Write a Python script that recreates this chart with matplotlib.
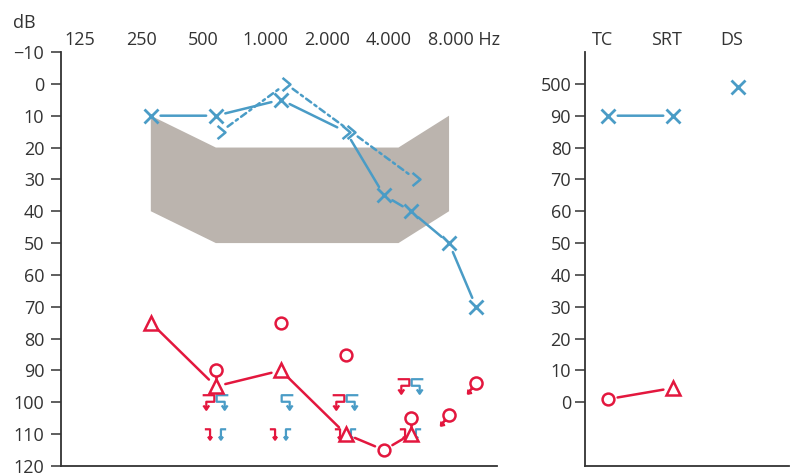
import matplotlib
matplotlib.use("Agg")
import matplotlib.pyplot as plt
import matplotlib.transforms as mtransforms
from matplotlib.path import Path

DPI = 100
BLUE = "#4a9cc6"
RED = "#e3173e"
GRAY = "#bbb4ae"
INK = "#333333"

plt.rcParams["font.family"] = ["Open Sans", "DejaVu Sans"]
plt.rcParams["font.size"] = 13
plt.rcParams["text.color"] = INK

# --- audiogram (left panel) ---
freq_ticks = [125, 250, 500, 1000, 2000, 4000, 8000]
freq_labels = ["125", "250", "500", "1.000", "2.000", "4.000", "8.000 Hz"]
db_ticks = list(range(-10, 121, 10))

area_freq = [250, 500, 3500, 6000, 6000, 3500, 500, 250]
area_db = [10, 20, 20, 10, 40, 50, 50, 40]

left_ac_freq = [250, 500, 1000, 2000, 3000, 4000, 6000, 8000]
left_ac_db = [10, 10, 5, 15, 35, 40, 50, 70]
left_ac_sym = ["x", "x", "x", ">", "x", "x", "x", "x"]

left_bc_freq = [500, 1000, 2000, 4000]
left_bc_db = [15, 0, 15, 30]

right_ac_freq = [250, 500, 1000, 2000, 3000, 4000]
right_ac_db = [75, 95, 90, 110, 115, 110]
right_ac_sym = ["^", "^", "^", "^", "o", "^"]

right_circle_freq = [1000, 2000]
right_circle_db = [75, 85]
right_stem_freq = [500, 4000]
right_stem_db = [90, 105]
right_nr_freq = [6000, 8000]
right_nr_db = [104, 94]

red_bc_freq = [500, 2000, 4000]
red_bc_db = [100, 100, 95]
blue_bc_freq = [500, 1000, 2000, 4000]
blue_bc_db = [100, 100, 100, 95]
red_low_freq = [500, 1000, 2000, 4000]
red_low_db = [110, 110, 110, 110]
blue_low_freq = [500, 1000, 2000, 4000]
blue_low_db = [110, 110, 110, 110]

# --- speech tests (right panel) ---
speech_cats = ["TC", "SRT", "DS"]
speech_ticks = list(range(0, 101, 10))
speech_labels = ["0", "10", "20", "30", "40", "50", "60", "70", "80", "90", "500"]
speech_blue_cats = ["TC", "SRT"]
speech_blue = [90, 90]
speech_ds_blue = 99
speech_red_cats = ["TC", "SRT"]
speech_red = [1, 4.5]
speech_red_sym = ["o", "^"]

M, L = Path.MOVETO, Path.LINETO
LW = 1.8


def chevron_path():
    return Path([(-0.3, 0.5), (0.3, 0.0), (-0.3, -0.5)], [M, L, L])


def bracket_path(mirror=False, small=False):
    if small:
        v = [(-0.35, 0.5), (0.15, 0.5), (0.15, -0.45),
             (-0.05, -0.2), (0.15, -0.5), (0.35, -0.2)]
        c = [M, L, L, M, L, L]
    else:
        v = [(-0.4, 0.5), (0.4, 0.5), (0.4, 0.05), (-0.15, 0.05), (-0.15, -0.45),
             (-0.35, -0.2), (-0.15, -0.5), (0.05, -0.2)]
        c = [M, L, L, L, L, M, L, L]
    if mirror:
        v = [(-x, y) for x, y in v]
    return Path(v, c)


def circle_tail_path(kind):
    circ = Path.circle((0, 0), 0.3)
    if kind == "stem":
        tail = Path([(0, -0.3), (0, -0.5)], [M, L])
    else:
        tail = Path([(-0.21, -0.21), (-0.42, -0.5), (-0.4, -0.3), (-0.42, -0.5), (-0.22, -0.46)],
                    [M, L, M, L, L])
    return Path.make_compound_path(circ, tail)


STYLE = {
    "x": dict(marker="x", ms=10, mew=2.0),
    ">": dict(marker=chevron_path(), ms=9.5, mew=1.8, mfc="none"),
    "^": dict(marker="^", ms=10.5, mew=1.8, mfc="white"),
    "o": dict(marker="o", ms=8.5, mew=1.8, mfc="white"),
}

fig = plt.figure(figsize=(7.93, 4.74), dpi=DPI)
ax = fig.add_axes([61 / 793, 8 / 474, 436 / 793, 414 / 474])
ax2 = fig.add_axes([585 / 793, 8 / 474, 204 / 793, 414 / 474])


def shifted(a, dx_px):
    return a.transData + mtransforms.ScaledTranslation(dx_px / DPI, 0, fig.dpi_scale_trans)


def link(a, xs, ys, color, ls="-", tr=None, shrink=7):
    tr = tr or a.transData
    for i in range(len(xs) - 1):
        a.annotate("", xy=(xs[i + 1], ys[i + 1]), xytext=(xs[i], ys[i]),
                   xycoords=tr, textcoords=tr, annotation_clip=False,
                   arrowprops=dict(arrowstyle="-", color=color, lw=LW,
                                   shrinkA=shrink, shrinkB=shrink, linestyle=ls),
                   zorder=2)


def marks(a, xs, ys, syms, color, tr=None, z=4):
    tr = tr or a.transData
    for s in dict.fromkeys(syms):
        px = [x for x, k in zip(xs, syms) if k == s]
        py = [y for y, k in zip(ys, syms) if k == s]
        a.plot(px, py, ls="none", color=color, mec=color, transform=tr, zorder=z, **STYLE[s])


def style_axes(a):
    for side in ("top", "right"):
        a.spines[side].set_visible(False)
    for side in ("left", "bottom"):
        a.spines[side].set_color(INK)
        a.spines[side].set_linewidth(1.3)
    a.tick_params(axis="y", colors=INK, labelcolor=INK, width=1.1)
    a.set_xticks([])
    a.autoscale(False)


# left panel
ax.set_xscale("log", base=2)
ax.set_xlim(96, 10000)
ax.set_ylim(120, -10)
ax.set_yticks(db_ticks)
ax.set_yticklabels([str(t).replace("-", "\u2212") for t in db_ticks])
ax.tick_params(axis="y", length=7, pad=5)
style_axes(ax)
ax.minorticks_off()
ax.set_xticks([])

ax.fill(area_freq, area_db, color=GRAY, lw=0, zorder=1)

link(ax, left_ac_freq, left_ac_db, BLUE)
marks(ax, left_ac_freq, left_ac_db, left_ac_sym, BLUE)

bc_tr = shifted(ax, 5)
link(ax, left_bc_freq, left_bc_db, BLUE, ls=(0, (2.5, 1.6, 1.0, 1.6)), tr=bc_tr, shrink=6)
marks(ax, left_bc_freq, left_bc_db, [">"] * len(left_bc_freq), BLUE, tr=bc_tr)

link(ax, right_ac_freq, right_ac_db, RED)
marks(ax, right_ac_freq, right_ac_db, right_ac_sym, RED, z=5)
ax.plot(right_circle_freq, right_circle_db, ls="none", color=RED, zorder=5, **STYLE["o"])
ax.plot(right_stem_freq, right_stem_db, ls="none", marker=circle_tail_path("stem"),
        ms=14.5, mew=1.8, mfc="white", mec=RED, zorder=5)
ax.plot(right_nr_freq, right_nr_db, ls="none", marker=circle_tail_path("nr"),
        ms=14.5, mew=1.8, mfc="none", mec=RED, zorder=5)

ax.plot(red_bc_freq, red_bc_db, ls="none", marker=bracket_path(), ms=10.5, mew=1.6,
        mfc="none", mec=RED, transform=shifted(ax, -8), zorder=3)
ax.plot(blue_bc_freq, blue_bc_db, ls="none", marker=bracket_path(mirror=True), ms=10.5, mew=1.6,
        mfc="none", mec=BLUE, transform=shifted(ax, 6), zorder=3)
ax.plot(red_low_freq, red_low_db, ls="none", marker=bracket_path(small=True), ms=7.5, mew=1.6,
        mfc="none", mec=RED, transform=shifted(ax, -8), zorder=3)
ax.plot(blue_low_freq, blue_low_db, ls="none", marker=bracket_path(mirror=True, small=True),
        ms=7.5, mew=1.6, mfc="none", mec=BLUE, transform=shifted(ax, 6), zorder=3)

top = mtransforms.blended_transform_factory(ax.transData, ax.transAxes)
for i, (f, lab) in enumerate(zip(freq_ticks, freq_labels)):
    last = i == len(freq_ticks) - 1
    dx = -48 if last else -6 - 3.3 * i
    tr = top + mtransforms.ScaledTranslation(dx / DPI, 12 / DPI, fig.dpi_scale_trans)
    ax.text(f, 1.0, lab, transform=tr, ha="left" if last else "center", va="center",
            color=INK, clip_on=False)

fig.text(24 / 793, 1 - 23 / 474, "dB", ha="center", va="center", color=INK)

# right panel
ax2.set_xlim(-0.354, 2.785)
ax2.set_ylim(-20, 110)
ax2.set_yticks(speech_ticks)
ax2.set_yticklabels(speech_labels)
ax2.tick_params(axis="y", length=7, pad=3)
style_axes(ax2)

cat_x = {c: i for i, c in enumerate(speech_cats)}
bx = [cat_x[c] for c in speech_blue_cats]
link(ax2, bx, speech_blue, BLUE)
marks(ax2, bx, speech_blue, ["x"] * len(bx), BLUE)
marks(ax2, [cat_x["DS"]], [speech_ds_blue], ["x"], BLUE)
rx = [cat_x[c] for c in speech_red_cats]
link(ax2, rx, speech_red, RED)
marks(ax2, rx, speech_red, speech_red_sym, RED)

top2 = mtransforms.blended_transform_factory(ax2.transData, ax2.transAxes)
for c in speech_cats:
    tr = top2 + mtransforms.ScaledTranslation(-6 / DPI, 12 / DPI, fig.dpi_scale_trans)
    ax2.text(cat_x[c], 1.0, c, transform=tr, ha="center", va="center", color=INK, clip_on=False)

fig.savefig("out.png", dpi=DPI)
